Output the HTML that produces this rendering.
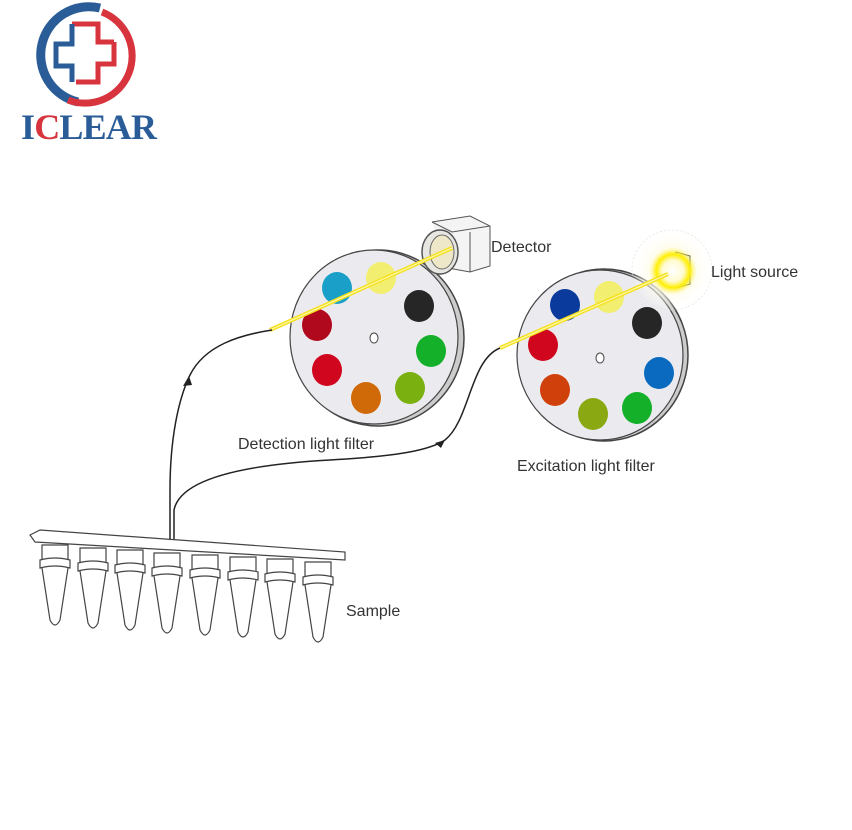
<!DOCTYPE html>
<html><head><style>
body{margin:0;background:#fff;width:852px;height:830px;overflow:hidden}
svg{display:block}
text{font-family:"Liberation Sans",sans-serif;fill:#333}
</style></head><body>
<svg width="852" height="830" viewBox="0 0 852 830">
<defs>
<radialGradient id="glow"><stop offset="0" stop-color="#fff"/><stop offset="0.45" stop-color="#fffbd0"/><stop offset="0.7" stop-color="#ffee00"/><stop offset="1" stop-color="#fff7a0" stop-opacity="0"/></radialGradient>
<radialGradient id="halo"><stop offset="0.4" stop-color="#fffbe0"/><stop offset="1" stop-color="#fff" stop-opacity="0"/></radialGradient>
</defs>
<!-- logo -->
<path d="M100 8 A48 48 0 0 0 78 102" fill="none" stroke="#2a5d98" stroke-width="9"/>
<path d="M102 12 A46 46 0 0 1 68 100" fill="none" stroke="#d8343e" stroke-width="7"/>
<path d="M72 24 H98 V42 H114" fill="none" stroke="#d8343e" stroke-width="5"/>
<path d="M114 42 V64 H98 V82 H76" fill="none" stroke="#d8343e" stroke-width="5"/>
<path d="M72 24 V44 H56 V66 H72 V82" fill="none" stroke="#2a5d98" stroke-width="5"/>
<text x="21" y="139" textLength="136" style="font-family:'Liberation Serif',serif;font-weight:bold;font-size:36px;fill:#2a5d98">I<tspan fill="#d8343e">C</tspan>LEAR</text>

<!-- detection wheel -->
<ellipse cx="378" cy="338" rx="86" ry="88" fill="#ccc" stroke="#444" stroke-width="1.5"/>
<ellipse cx="374" cy="337" rx="84" ry="87" fill="#ebebef" stroke="#444" stroke-width="1.2"/>
<g stroke="none">
<ellipse cx="337" cy="288" rx="15" ry="16" fill="#1aa0c8"/>
<ellipse cx="381" cy="278" rx="15" ry="16" fill="#f2ee70"/>
<ellipse cx="419" cy="306" rx="15" ry="16" fill="#262626"/>
<ellipse cx="431" cy="351" rx="15" ry="16" fill="#14b02a"/>
<ellipse cx="410" cy="388" rx="15" ry="16" fill="#7ab010"/>
<ellipse cx="366" cy="398" rx="15" ry="16" fill="#d06a08"/>
<ellipse cx="327" cy="370" rx="15" ry="16" fill="#d0061e"/>
<ellipse cx="317" cy="325" rx="15" ry="16" fill="#b0081c"/>
</g>
<ellipse cx="374" cy="338" rx="4" ry="5" fill="#fff" stroke="#444"/>
<!-- detector -->
<path d="M432 222 L470 216 L490 226 L490 266 L470 272 L448 268" fill="#f4f4f4" stroke="#555"/>
<path d="M432 222 L452 232 L490 226 M470 272 V232" fill="none" stroke="#555"/>
<ellipse cx="440" cy="252" rx="18" ry="22" fill="#e8e6e0" stroke="#555" stroke-width="1.5"/>
<ellipse cx="442" cy="252" rx="12" ry="17" fill="#efe8c8" stroke="#666"/>
<line x1="270" y1="330" x2="452" y2="248" stroke="#f5e020" stroke-width="4"/>
<line x1="270" y1="330" x2="452" y2="248" stroke="#fff9b0" stroke-width="1.2"/>
<text x="491" y="252" font-size="16">Detector</text>

<!-- excitation wheel -->
<ellipse cx="604" cy="355" rx="84" ry="86" fill="#ccc" stroke="#444" stroke-width="1.5"/>
<ellipse cx="600" cy="355" rx="83" ry="85" fill="#ebebef" stroke="#444" stroke-width="1.2"/>
<ellipse cx="565" cy="305" rx="15" ry="16" fill="#0a3a9c"/>
<ellipse cx="609" cy="297" rx="15" ry="16" fill="#f2ee70"/>
<ellipse cx="647" cy="323" rx="15" ry="16" fill="#262626"/>
<ellipse cx="659" cy="373" rx="15" ry="16" fill="#0a6ac0"/>
<ellipse cx="637" cy="408" rx="15" ry="16" fill="#14b02a"/>
<ellipse cx="593" cy="414" rx="15" ry="16" fill="#8aa812"/>
<ellipse cx="555" cy="390" rx="15" ry="16" fill="#d0400a"/>
<ellipse cx="543" cy="345" rx="15" ry="16" fill="#d0061e"/>
<ellipse cx="600" cy="358" rx="4" ry="5" fill="#fff" stroke="#444"/>
<circle cx="672" cy="270" r="42" fill="url(#halo)"/>
<circle cx="672" cy="270" r="40" fill="none" stroke="#ddd" stroke-width="0.6" stroke-dasharray="2 2"/>
<path d="M676 252 L690 256 L690 284 L676 288Z" fill="#eee" stroke="#444"/>
<circle cx="673" cy="271" r="24" fill="url(#glow)"/>
<line x1="500" y1="348" x2="668" y2="274" stroke="#f5e020" stroke-width="4"/>
<line x1="500" y1="348" x2="668" y2="274" stroke="#fff9b0" stroke-width="1.2"/>
<text x="711" y="277" font-size="16">Light source</text>

<!-- fibers -->
<path d="M170 545 V490 C170 440 178 400 190 375 C205 345 240 335 272 330" fill="none" stroke="#222" stroke-width="1.5"/>
<path d="M174 545 V510 C180 480 240 465 330 460 C400 456 430 450 445 440 C470 420 470 360 500 348" fill="none" stroke="#222" stroke-width="1.5"/>
<path d="M189 376 l-6 10 l9 -1z" fill="#222"/>
<path d="M445 440 l-10 3 l6 5z" fill="#222"/>
<text x="238" y="449" font-size="16">Detection light filter</text>
<text x="517" y="471" font-size="16">Excitation light filter</text>

<!-- tubes -->
<g fill="#fff" stroke="#444" stroke-width="1.2">
<path d="M30 535 L40 530 L345 552 L345 560 L35 542Z"/>
<g id="t">
<path d="M42 545 H68 V560 H42Z"/>
<path d="M40 560 Q55 556 70 560 L70 568 Q55 564 40 568Z"/>
<path d="M42 568 L50 620 Q55 630 60 620 L68 568"/>
</g>
<use href="#t" x="38" y="3"/><use href="#t" x="75" y="5"/><use href="#t" x="112" y="8"/>
<use href="#t" x="150" y="10"/><use href="#t" x="188" y="12"/><use href="#t" x="225" y="14"/><use href="#t" x="263" y="17"/>
</g>
<text x="346" y="616" font-size="16">Sample</text>
</svg>
</body></html>
